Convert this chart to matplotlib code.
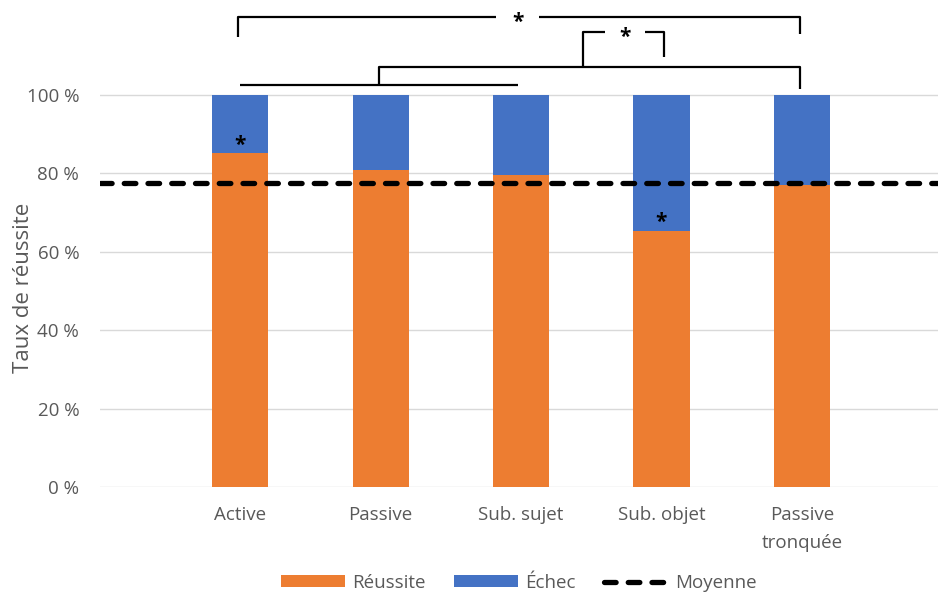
import matplotlib.pyplot as plt
import numpy as np

plt.rcParams['font.family'] = ['Open Sans', 'DejaVu Sans']

# données
categories = ['Active', 'Passive', 'Sub. sujet', 'Sub. objet', 'Passive\ntronquée']
reussite = [85.3, 80.9, 79.6, 65.2, 77.0]
echec = [14.7, 19.1, 20.4, 34.8, 23.0]
moyenne = 77.6
yticks = [0, 20, 40, 60, 80, 100]
ytick_labels = ['0 %', '20 %', '40 %', '60 %', '80 %', '100 %']

# étoiles dans les barres (indice, hauteur)
bar_stars = [(0, 87.2), (3, 67.4)]

ORANGE = '#ED7D31'
BLUE = '#4472C4'
GREY = '#595959'

fig = plt.figure(figsize=(9.38, 5.92), dpi=100)
ax = fig.add_axes([100 / 938, 1 - 487 / 592, 1 - 100 / 938, 487 / 592])

x = np.arange(len(categories))
ax.bar(x, reussite, width=0.4, color=ORANGE, label='Réussite', zorder=2)
ax.bar(x, echec, width=0.4, bottom=reussite, color=BLUE, label='Échec', zorder=2)
ax.axhline(moyenne, color='black', lw=3.8, dashes=(2.2, 2.3),
           dash_capstyle='round', label='Moyenne', zorder=3)

for i, h in bar_stars:
    ax.text(i, h, '*', ha='center', va='center', fontsize=15,
            fontweight='bold', zorder=4)


def bracket(x0, x1, y, yl, yr, gap=None, star_y=None):
    kw = dict(color='black', lw=1.6, solid_capstyle='butt', clip_on=False)
    if gap is None:
        ax.plot([x0, x0, x1, x1], [yl, y, y, yr], **kw)
    else:
        g0, g1 = gap
        ax.plot([x0, x0, g0], [yl, y, y], **kw)
        ax.plot([g1, x1, x1], [y, y, yr], **kw)
        ax.text((g0 + g1) / 2, star_y, '*', ha='center', va='center',
                fontsize=15, fontweight='bold', clip_on=False)


# crochets de significativité
bracket(-0.02, 3.99, 119.8, 114.7, 115.6, gap=(1.82, 2.13), star_y=118.4)
bracket(2.44, 3.02, 116.0, 107.2, 109.6, gap=(2.60, 2.88), star_y=114.6)
bracket(0.99, 3.99, 107.1, 102.6, 101.4)
ax.plot([0.0, 1.98], [102.6, 102.6], color='black', lw=1.6,
        solid_capstyle='butt')

ax.set_xlim(-1, 4.97)
ax.set_ylim(0, 124.2)
ax.set_yticks(yticks)
ax.set_yticklabels(ytick_labels)
ax.set_xticks(x)
ax.set_xticklabels(categories, linespacing=1.7)
ax.tick_params(axis='both', length=0, colors=GREY, labelsize=13.5)
ax.tick_params(axis='y', pad=15)
ax.tick_params(axis='x', pad=14)
ax.grid(axis='y', color='#d9d9d9', lw=1, zorder=0)
for s in ['top', 'right', 'left', 'bottom']:
    ax.spines[s].set_visible(False)

ax.set_ylabel('Taux de réussite', color=GREY, fontsize=16)
ax.yaxis.set_label_coords(-0.079, 0.409)

handles, labels = ax.get_legend_handles_labels()
order = [1, 2, 0]
fig.legend([handles[i] for i in order], [labels[i] for i in order],
           loc='center', bbox_to_anchor=(519 / 938, 1 - 583 / 592), ncol=3,
           frameon=False, fontsize=13.5, labelcolor=GREY, handlelength=3.4,
           handleheight=0.6, columnspacing=1.5, handletextpad=0.4)

fig.savefig('out.png', dpi=100)
